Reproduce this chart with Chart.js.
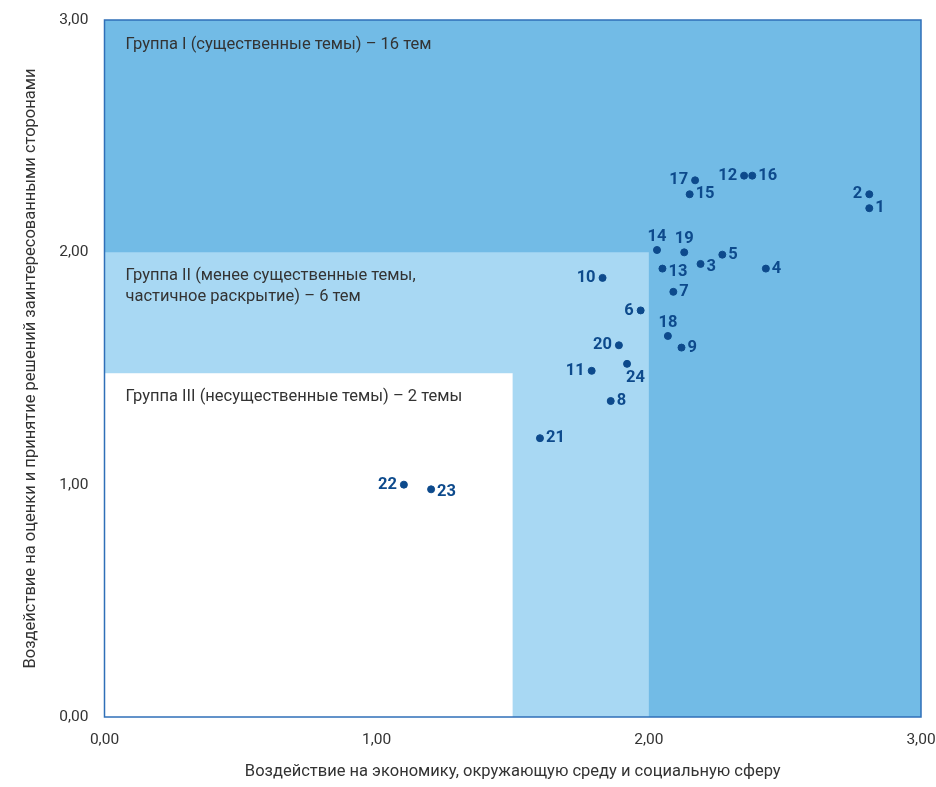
<!DOCTYPE html>
<html>
<head>
<meta charset="utf-8">
<script src="https://cdn.jsdelivr.net/npm/chart.js@4"></script>
<style>
  html, body { margin: 0; padding: 0; background: #fff; }
  #wrap { width: 936px; height: 787px; }
</style>
</head>
<body>
<div id="wrap"><canvas id="materialityChart"></canvas></div>
<script>
// Topic numbers and their scores
const topicIds = ['1', '2', '3', '4', '5', '6', '7', '8', '9', '10', '11', '12',
                  '13', '14', '15', '16', '17', '18', '19', '20', '21', '22', '23', '24'];
const economyImpact = [2.81, 2.81, 2.19, 2.43, 2.27, 1.97, 2.09, 1.86, 2.12, 1.83, 1.79, 2.35,
                       2.05, 2.03, 2.15, 2.38, 2.17, 2.07, 2.13, 1.89, 1.60, 1.10, 1.20, 1.92];
const stakeholderImpact = [2.19, 2.25, 1.95, 1.93, 1.99, 1.75, 1.83, 1.36, 1.59, 1.89, 1.49, 2.33,
                           1.93, 2.01, 2.25, 2.33, 2.31, 1.64, 2.00, 1.60, 1.20, 1.00, 0.98, 1.52];
// where the number sits next to its dot
const labelSide = ['r', 'l', 'rd', 'r', 'r', 'l', 'r', 'r', 'r', 'l', 'l', 'l',
                   'rd', 't', 'r', 'r', 'l', 't', 't', 'l', 'r', 'l', 'rd', 'b'];

const axisTicks = [0, 1, 2, 3];
const groupOneMin = 2.0;      // both axes
const groupThreeMaxX = 1.5;
const groupThreeMaxY = 1.48;

const groupTexts = [
    ['Группа I (существенные темы) – 16 тем'],
    ['Группа II (менее существенные темы,', 'частичное раскрытие) – 6 тем'],
    ['Группа III (несущественные темы) – 2 темы']
];

const DARK = '#72bbe6';
const LIGHT = '#a8d8f3';
const NAVY = '#0d4a8c';
const FONT = 'Roboto, "Liberation Sans", sans-serif';

const fmt = v => v.toFixed(2).replace('.', ',');

// Background zones + group captions
const zonesPlugin = {
    id: 'zones',
    beforeDatasetsDraw(chart) {
        const {ctx, chartArea: a, scales: {x, y}} = chart;
        ctx.save();
        ctx.fillStyle = DARK;
        ctx.fillRect(a.left, a.top, a.right - a.left, a.bottom - a.top);

        ctx.fillStyle = LIGHT;
        ctx.beginPath();
        ctx.moveTo(x.getPixelForValue(0), y.getPixelForValue(groupOneMin));
        ctx.lineTo(x.getPixelForValue(groupOneMin), y.getPixelForValue(groupOneMin));
        ctx.lineTo(x.getPixelForValue(groupOneMin), y.getPixelForValue(0));
        ctx.lineTo(x.getPixelForValue(groupThreeMaxX), y.getPixelForValue(0));
        ctx.lineTo(x.getPixelForValue(groupThreeMaxX), y.getPixelForValue(groupThreeMaxY));
        ctx.lineTo(x.getPixelForValue(0), y.getPixelForValue(groupThreeMaxY));
        ctx.closePath();
        ctx.fill();

        ctx.fillStyle = '#ffffff';
        ctx.fillRect(x.getPixelForValue(0), y.getPixelForValue(groupThreeMaxY),
            x.getPixelForValue(groupThreeMaxX) - x.getPixelForValue(0),
            y.getPixelForValue(0) - y.getPixelForValue(groupThreeMaxY));

        ctx.strokeStyle = '#2f6fb8';
        ctx.lineWidth = 1.5;
        ctx.strokeRect(a.left, a.top, a.right - a.left, a.bottom - a.top);

        // captions
        ctx.fillStyle = '#333333';
        ctx.font = '16.5px ' + FONT;
        ctx.textAlign = 'left';
        ctx.textBaseline = 'middle';
        const tx = a.left + 21;
        const starts = [a.top + 25, y.getPixelForValue(groupOneMin) + 24, y.getPixelForValue(groupThreeMaxY) + 24];
        groupTexts.forEach((lines, i) => {
            lines.forEach((line, j) => ctx.fillText(line, tx, starts[i] + j * 21));
        });
        ctx.restore();
    }
};

// Topic numbers next to the dots
const labelsPlugin = {
    id: 'topicLabels',
    afterDatasetsDraw(chart) {
        const {ctx} = chart;
        const meta = chart.getDatasetMeta(0);
        ctx.save();
        ctx.fillStyle = NAVY;
        ctx.font = 'bold 16.5px ' + FONT;
        ctx.textBaseline = 'middle';
        meta.data.forEach((pt, i) => {
            const side = labelSide[i];
            let dx = 0, dy = 0;
            if (side === 'r' || side === 'rd') { ctx.textAlign = 'left'; dx = 6; dy = side === 'rd' ? 3 : 0; }
            else if (side === 'l') { ctx.textAlign = 'right'; dx = -7; }
            else if (side === 't') { ctx.textAlign = 'center'; dy = -13; }
            else if (side === 'b') { ctx.textAlign = 'left'; dx = -1; dy = 14; }
            ctx.fillText(topicIds[i], pt.x + dx, pt.y + dy);
        });
        ctx.restore();
    }
};

const ctx = document.getElementById('materialityChart').getContext('2d');
new Chart(ctx, {
    type: 'scatter',
    data: {
        datasets: [{
            label: 'Темы',
            data: economyImpact.map((v, i) => ({x: v, y: stakeholderImpact[i]})),
            backgroundColor: NAVY,
            borderColor: NAVY,
            pointRadius: 3.5,
            pointHoverRadius: 3.5
        }]
    },
    options: {
        responsive: true,
        maintainAspectRatio: false,
        animation: false,
        layout: {
            padding: {top: 20, right: 15, left: 0, bottom: 0}
        },
        scales: {
            x: {
                type: 'linear',
                min: 0,
                max: 3,
                afterBuildTicks: s => { s.ticks = axisTicks.map(v => ({value: v})); },
                afterFit: s => { s.height = 70; s.paddingLeft = 0; s.paddingRight = 0; },
                grid: {display: false, drawTicks: false},
                border: {display: false},
                ticks: {
                    padding: 14,
                    color: '#333333',
                    font: {family: FONT, size: 15.5},
                    callback: v => fmt(v)
                },
                title: {
                    display: true,
                    text: 'Воздействие на экономику, окружающую среду и социальную сферу',
                    color: '#333333',
                    font: {family: FONT, size: 16.5},
                    padding: {top: 0, bottom: 5}
                }
            },
            y: {
                type: 'linear',
                min: 0,
                max: 3,
                afterBuildTicks: s => { s.ticks = axisTicks.map(v => ({value: v})); },
                afterFit: s => { s.width = 104.5; s.paddingTop = 0; s.paddingBottom = 0; },
                grid: {display: false, drawTicks: false},
                border: {display: false},
                ticks: {
                    padding: 16,
                    color: '#333333',
                    font: {family: FONT, size: 15.5},
                    callback: v => fmt(v)
                },
                title: {
                    display: true,
                    text: 'Воздействие на оценки и принятие решений заинтересованными сторонами',
                    color: '#333333',
                    font: {family: FONT, size: 16.5},
                    padding: {top: 21, bottom: 0}
                }
            }
        },
        plugins: {
            legend: {display: false},
            tooltip: {enabled: false}
        }
    },
    plugins: [zonesPlugin, labelsPlugin]
});
</script>
</body>
</html>
